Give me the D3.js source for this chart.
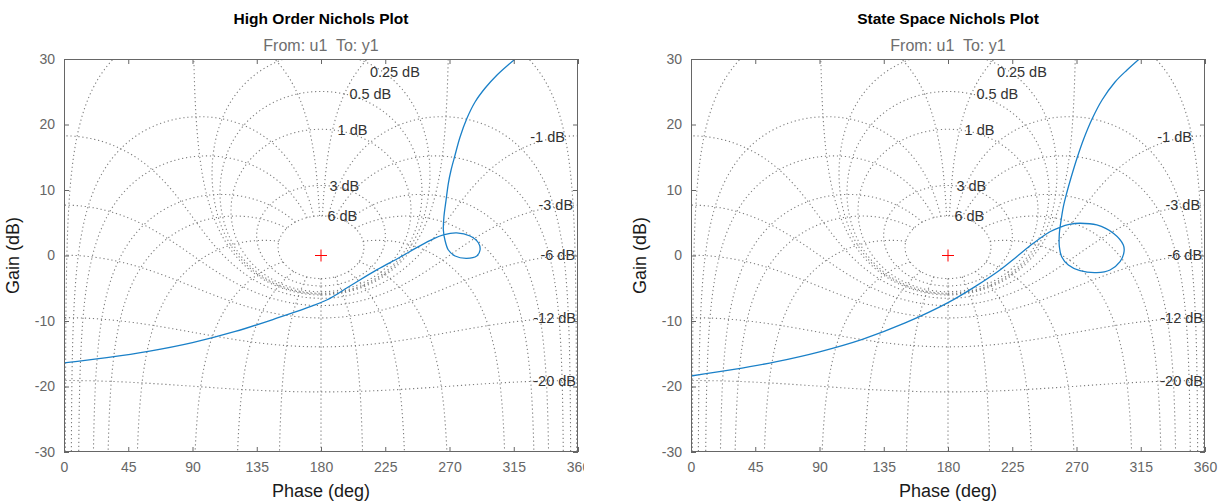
<!DOCTYPE html>
<html><head><meta charset="utf-8">
<script src="https://cdn.jsdelivr.net/npm/d3@7"></script>
<style>body{margin:0;background:#fff;} svg{display:block;font-family:"Liberation Sans",Arial,Helvetica,sans-serif;}</style>
</head><body><svg id="c" width="1226" height="504"></svg>
<script>
// ---------- data ----------
const titles = ["High Order Nichols Plot", "State Space Nichols Plot"];
const subtitle = "From: u1  To: y1";
const xLabel = "Phase (deg)";
const yLabel = "Gain (dB)";
const xTicks = [0, 45, 90, 135, 180, 225, 270, 315, 360];
const yTicks = [-30, -20, -10, 0, 10, 20, 30];
const phaseDomain = [0, 360];
const gainDomain = [-30, 30];
// closed-loop gain lines (dB) and closed-loop phase lines (deg) of the Nichols grid
const gridGains = [6, 3, 1, 0.5, 0.25, 0, -1, -3, -6, -12, -20, -40];
const posLabelGains = [6, 3, 1, 0.5, 0.25];
const negLabelGains = [-1, -3, -6, -12, -20];
const gridPhases = [-1, -5, -10, -20, -30, -50, -90, -120, -150, -180];

// open-loop response: phase (deg) and gain (dB)
const highOrderPhase = [0, 30, 60, 90, 120, 150, 170, 184, 200, 219, 235, 247, 258.7, 265.7, 275, 284.4, 290.2, 291.4, 289.1, 282, 273.9, 269.2, 266.8, 265.7, 266.1, 267.6, 269.2, 271.1, 273.9, 277.4, 282.3, 287.9, 295.0, 303.3, 311.0, 316.6, 320];
const highOrderGain  = [-16.4, -15.6, -14.6, -13.3, -11.6, -9.5, -8.0, -6.8, -4.7, -2.2, -0.3, 1.2, 2.55, 3.15, 3.45, 2.98, 1.95, 0.84, -0.08, -0.43, -0.08, 0.84, 2.37, 3.89, 5.92, 8.46, 11.02, 13.05, 15.34, 18.09, 20.99, 23.44, 25.57, 27.56, 29.08, 30.08, 30.6];
const stateSpacePhase = [0, 30, 60, 90, 120, 150, 180, 200, 216.4, 228.1, 239.7, 251.4, 258.4, 265, 272.5, 284.2, 295.8, 302.8, 303.3, 300.5, 293.5, 284.2, 272.5, 264.3, 259.6, 258, 258, 258.9, 260.8, 263.1, 266.1, 270.4, 275.3, 280.9, 287.9, 297.0, 305.4, 314.5];
const stateSpaceGain  = [-18.4, -17.4, -16.2, -14.7, -12.8, -10.3, -7.2, -4.6, -2.21, -0.18, 1.86, 3.63, 4.31, 4.75, 4.92, 4.66, 3.39, 1.6, 0.58, -0.95, -2.21, -2.62, -2.32, -1.45, -0.18, 1.34, 3.39, 4.92, 7.45, 9.5, 11.83, 14.89, 17.94, 20.84, 23.74, 26.49, 28.32, 30.1];

// ---------- grid math ----------
const D2R = Math.PI / 180, R2D = 180 / Math.PI;
const dB = v => 20 * Math.log10(v);
function gainLine(g) {
  const M = Math.pow(10, g / 20), pts = [];
  if (Math.abs(M - 1) < 1e-9) {
    for (let i = 1; i < 6000; i++) {
      const ph = 90 + 180 * i / 6000;
      pts.push([ph, dB(-1 / (2 * Math.cos(ph * D2R)))]);
    }
  } else if (M < 1) {
    const N = 6000;
    for (let i = 0; i <= N; i++) {
      const th = -2 * Math.PI * i / N;
      const Dr = 1 - M * Math.cos(th), Di = -M * Math.sin(th);
      pts.push([(th - Math.atan2(Di, Dr)) * R2D + 360, dB(M / Math.hypot(Dr, Di))]);
    }
  } else {
    const N = 8000;
    for (let i = 0; i <= N; i++) {
      const th = -Math.PI + 2 * Math.PI * i / N;
      const Dr = 1 - M * Math.cos(th), Di = -M * Math.sin(th);
      let ph = (th - Math.atan2(Di, Dr)) * R2D;
      ph = ((ph % 360) + 360) % 360;
      pts.push([ph, dB(M / Math.hypot(Dr, Di))]);
    }
  }
  return pts;
}
function phaseLines(p) {
  const us = [];
  for (let u = 0.5; u < 3; u += 0.0005) us.push(u);
  for (let k = 0; k <= 300; k++) us.push(3 * Math.pow(1e4 / 3, k / 300));
  const a = [], b = [];
  us.forEach(u => {
    const M = 1 / u;
    if (p === -180) { a.push([180, dB(M / (1 + M))]); return; }
    const Dr = 1 - M * Math.cos(p * D2R), Di = -M * Math.sin(p * D2R);
    const ph = p - Math.atan2(Di, Dr) * R2D + 360;
    const gg = dB(M / Math.hypot(Dr, Di));
    a.push([ph, gg]); b.push([360 - ph, gg]);
  });
  return p === -180 ? [a] : [a, b];
}
// label anchor: point of a gain line at closed-loop phase -1 deg
function labelPoint(g) {
  const M = Math.pow(10, g / 20), th = -1 * D2R;
  const Dr = 1 - M * Math.cos(th), Di = -M * Math.sin(th);
  let ph = (th - Math.atan2(Di, Dr)) * R2D;
  ph = ((ph % 360) + 360) % 360;
  return [ph, dB(M / Math.hypot(Dr, Di))];
}

// ---------- drawing ----------
const svg = d3.select("#c");
const panels = [
  { left: 64, title: titles[0], ph: highOrderPhase, g: highOrderGain, labelClip: 584 },
  { left: 691, title: titles[1], ph: stateSpacePhase, g: stateSpaceGain, labelClip: 1226 }
];
const W = 514, plotTop = 59, H = 393;
const axisCol = "#666666";

panels.forEach((P, idx) => {
  const x = d3.scaleLinear().domain(phaseDomain).range([P.left, P.left + W]);
  const y = d3.scaleLinear().domain(gainDomain).range([plotTop + H, plotTop]);
  const g = svg.append("g");
  const clipId = "clip" + idx;
  svg.append("clipPath").attr("id", clipId).append("rect")
    .attr("x", P.left).attr("y", plotTop).attr("width", W).attr("height", H);
  svg.append("clipPath").attr("id", "tclip" + idx).append("rect")
    .attr("x", 0).attr("y", 0).attr("width", P.labelClip).attr("height", 504);

  const line = d3.line().x(d => x(d[0])).y(d => y(d[1]));
  const grid = g.append("g").attr("clip-path", `url(#${clipId})`)
    .attr("fill", "none").attr("stroke", "#7d7d7d").attr("stroke-width", 1.1)
    .attr("stroke-dasharray", "1.2,2.8");
  gridGains.forEach(gg => grid.append("path").attr("d", line(gainLine(gg))));
  gridPhases.forEach(pp => phaseLines(pp).forEach(pts => grid.append("path").attr("d", line(pts))));

  const lab = g.append("g").attr("font-size", 14.5).attr("fill", "#333333");
  negLabelGains.forEach(gg => {
    const pt = labelPoint(gg);
    lab.append("text").attr("x", Math.min(x(pt[0]), x(360) - 2)).attr("y", y(pt[1]))
      .attr("dy", "0.35em").attr("text-anchor", "end").text(gg + " dB");
  });
  posLabelGains.forEach(gg => {
    const pt = labelPoint(gg);
    const yy = Math.max(y(pt[1]), plotTop + 13);
    lab.append("text").attr("x", x(pt[0]) + 5).attr("y", yy)
      .attr("dy", "0.35em").attr("text-anchor", "start").text(gg + " dB");
  });

  g.append("path").attr("d", `M${x(180) - 6},${y(0)}H${x(180) + 6}M${x(180)},${y(0) - 6}V${y(0) + 6}`)
    .attr("stroke", "#ff0000").attr("stroke-width", 1).attr("fill", "none");

  const data = P.ph.map((v, i) => [v, P.g[i]]);
  g.append("path").attr("clip-path", `url(#${clipId})`)
    .attr("d", d3.line().x(d => x(d[0])).y(d => y(d[1])).curve(d3.curveCatmullRom.alpha(0.5))(data))
    .attr("fill", "none").attr("stroke", "#1a80c8").attr("stroke-width", 1.3);

  const fmt = d => String(d);
  const ax = [
    d3.axisBottom(x).tickValues(xTicks).tickFormat(fmt).tickSizeInner(-5).tickSizeOuter(0).tickPadding(10),
    d3.axisTop(x).tickValues(xTicks).tickSizeInner(-5).tickSizeOuter(0).tickFormat(""),
    d3.axisLeft(y).tickValues(yTicks).tickFormat(fmt).tickSizeInner(-5).tickSizeOuter(0).tickPadding(9),
    d3.axisRight(y).tickValues(yTicks).tickSizeInner(-5).tickSizeOuter(0).tickFormat("")
  ];
  const tr = [`translate(0,${plotTop + H})`, `translate(0,${plotTop})`, `translate(${P.left},0)`, `translate(${P.left + W},0)`];
  ax.forEach((a, i) => {
    const wrap = g.append("g").attr("clip-path", i === 0 ? `url(#tclip${idx})` : null);
    const ag = wrap.append("g").attr("transform", tr[i]).call(a);
    ag.select(".domain").remove();
    ag.selectAll("line").attr("stroke", axisCol);
    ag.selectAll("text").attr("fill", axisCol).attr("font-size", 14)
      .attr("font-family", '"Liberation Sans",Arial,sans-serif');
  });
  g.append("rect").attr("x", P.left + 0.5).attr("y", plotTop + 0.5).attr("width", W - 1).attr("height", H - 1)
    .attr("fill", "none").attr("stroke", axisCol).attr("stroke-width", 1);

  const cx = P.left + W / 2;
  g.append("text").attr("x", cx).attr("y", 24).attr("text-anchor", "middle")
    .attr("font-size", 15.5).attr("font-weight", "bold").attr("fill", "#000").text(P.title);
  g.append("text").attr("x", cx).attr("y", 51).attr("text-anchor", "middle")
    .attr("font-size", 16).attr("fill", "#6e6e6e").style("white-space", "pre").text(subtitle);
  g.append("text").attr("x", cx).attr("y", 497).attr("text-anchor", "middle")
    .attr("font-size", 18).attr("fill", "#1a1a1a").text(xLabel);
  g.append("text").attr("transform", `translate(${P.left - 45},${plotTop + H / 2}) rotate(-90)`)
    .attr("text-anchor", "middle").attr("font-size", 18).attr("fill", "#1a1a1a").text(yLabel);
});
</script>
</body></html>
